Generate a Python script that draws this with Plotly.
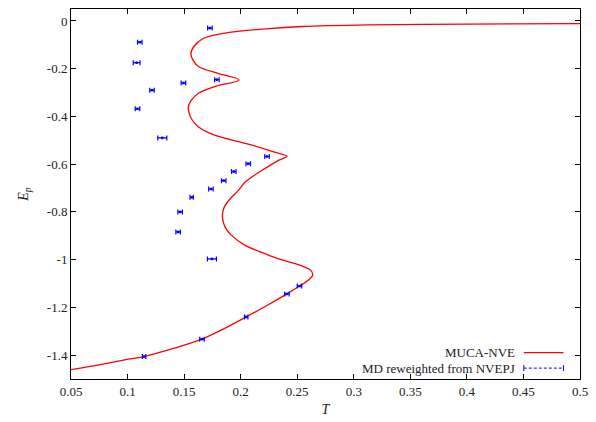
import plotly.graph_objects as go

# MUCA-NVE curve (T as a function of Ep)
muca_T = [0.05, 0.0757, 0.102, 0.1146, 0.142, 0.1658, 0.185, 0.2049, 0.224, 0.2409, 0.252,
          0.260, 0.2637, 0.262, 0.256, 0.2483, 0.2335, 0.222, 0.204, 0.191, 0.1865, 0.1845,
          0.1839, 0.1855, 0.19, 0.198, 0.2044, 0.219, 0.2335, 0.241, 0.230, 0.210, 0.195,
          0.1835, 0.1715, 0.1625, 0.157, 0.1545, 0.1537, 0.156, 0.163, 0.177, 0.1985, 0.18,
          0.163, 0.158, 0.156, 0.159, 0.166, 0.178, 0.1956, 0.222, 0.254, 0.3126, 0.40, 0.5]
muca_E = [-1.461, -1.440, -1.416, -1.406, -1.37, -1.333, -1.29, -1.240, -1.19, -1.1436, -1.1107,
          -1.085, -1.065, -1.045, -1.030, -1.017, -0.997, -0.976, -0.94, -0.894, -0.866, -0.84,
          -0.811, -0.78, -0.749, -0.71, -0.673, -0.6255, -0.584, -0.567, -0.55, -0.52, -0.502,
          -0.488, -0.468, -0.443, -0.414, -0.387, -0.360, -0.335, -0.302, -0.275, -0.247, -0.22,
          -0.192, -0.165, -0.136, -0.105, -0.0756, -0.058, -0.045, -0.033, -0.0234, -0.0165, -0.013, -0.011]

# MD reweighted from NVEPJ (points with T error bars)
md_T = [0.1728, 0.1108, 0.108, 0.179, 0.1494, 0.1216, 0.1088, 0.1307, 0.2233, 0.2067, 0.1939,
        0.185, 0.1737, 0.1567, 0.1465, 0.1447, 0.1746, 0.252, 0.2409, 0.2049, 0.1658, 0.1146]
md_E = [-0.030, -0.089, -0.175, -0.246, -0.260, -0.290, -0.368, -0.490, -0.568, -0.598, -0.631,
        -0.669, -0.704, -0.739, -0.800, -0.884, -0.997, -1.1107, -1.1436, -1.240, -1.333, -1.406]
md_err = [0.002, 0.002, 0.003, 0.002, 0.002, 0.002, 0.002, 0.004, 0.002, 0.002, 0.002,
          0.002, 0.002, 0.0015, 0.002, 0.002, 0.004, 0.002, 0.002, 0.0015, 0.002, 0.0015]

x_ticks = [0.05, 0.1, 0.15, 0.2, 0.25, 0.3, 0.35, 0.4, 0.45, 0.5]
x_ticklabels = ["0.05", "0.1", "0.15", "0.2", "0.25", "0.3", "0.35", "0.4", "0.45", "0.5"]
y_ticks = [0, -0.2, -0.4, -0.6, -0.8, -1, -1.2, -1.4]
y_ticklabels = ["0", "-0.2", "-0.4", "-0.6", "-0.8", "-1", "-1.2", "-1.4"]

FONT = "Liberation Serif"

fig = go.Figure()
fig.add_trace(go.Scatter(x=muca_T, y=muca_E, mode="lines",
                         line=dict(color="#ff0000", width=1.3, shape="spline", smoothing=0.9),
                         name="MUCA-NVE", showlegend=False))
fig.add_trace(go.Scatter(x=md_T, y=md_E, mode="markers",
                         marker=dict(color="#0000ff", size=2.5, symbol="square"),
                         error_x=dict(type="data", array=md_err, color="#0000ff", thickness=1.2, width=2.5),
                         name="MD reweighted from NVEPJ", showlegend=False))

axis_common = dict(showline=True, linecolor="black", linewidth=1, mirror="ticks", ticks="inside",
                   ticklen=5, tickcolor="black", showgrid=False, zeroline=False,
                   tickfont=dict(family=FONT, size=13, color="#222"))
fig.update_xaxes(range=[0.05, 0.5], tickvals=x_ticks, ticktext=x_ticklabels,
                 title=dict(text="<i>T</i>", font=dict(family=FONT, size=14, color="#222"), standoff=6),
                 **axis_common)
fig.update_yaxes(range=[-1.5, 0.05], tickvals=y_ticks, ticktext=y_ticklabels,
                 title=dict(text="<i>E<sub>p</sub></i>", font=dict(family=FONT, size=14, color="#222"), standoff=14),
                 **axis_common)

# legend drawn gnuplot-style: text right-aligned, sample to its right
lx_text, lx0, lx1 = 0.8765, 0.8896, 0.9676
ly1, ly2 = 0.0713, 0.0294
fig.add_annotation(xref="paper", yref="paper", x=lx_text, y=ly1, text="MUCA-NVE", showarrow=False,
                   xanchor="right", yanchor="middle", font=dict(family=FONT, size=13, color="#222"))
fig.add_annotation(xref="paper", yref="paper", x=lx_text, y=ly2, text="MD reweighted from NVEPJ", showarrow=False,
                   xanchor="right", yanchor="middle", font=dict(family=FONT, size=13, color="#222"))
fig.add_shape(type="line", xref="paper", yref="paper", x0=lx0, x1=lx1, y0=ly1, y1=ly1,
              line=dict(color="#ff0000", width=1.3))
fig.add_shape(type="line", xref="paper", yref="paper", x0=lx0, x1=lx1, y0=ly2, y1=ly2,
              line=dict(color="#0000ff", width=1, dash="3px,2px"))
for xx in (lx0, lx1):
    fig.add_shape(type="line", xref="paper", yref="paper", x0=xx, x1=xx, y0=ly2 - 0.008, y1=ly2 + 0.008,
                  line=dict(color="#0000ff", width=1))

fig.update_layout(width=596, height=422, margin=dict(l=71, r=13, t=8, b=39),
                  paper_bgcolor="white", plot_bgcolor="white", showlegend=False)

fig.write_html("out.html", config={"displayModeBar": False},
               post_script="document.body.style.margin='0';")
